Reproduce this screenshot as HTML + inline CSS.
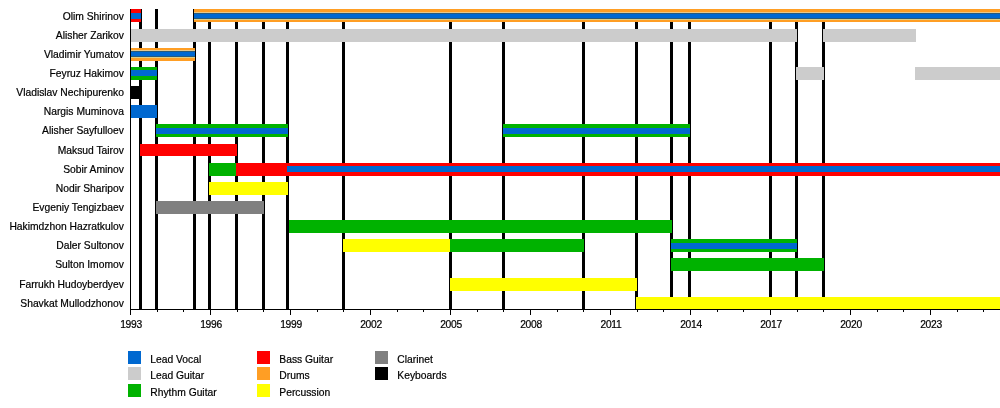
<!DOCTYPE html>
<html><head><meta charset="utf-8"><title>Timeline</title>
<style>
html,body{margin:0;padding:0;background:#fff}
#c{position:relative;width:1000px;height:408px;overflow:hidden;background:#fff;font-family:"Liberation Sans",sans-serif;font-size:10.3px;color:#000;line-height:12px;-webkit-text-stroke:0.2px #000}
#c div{position:absolute}
.l{background:#000;top:9px;height:300px;width:3px}
.b{height:13px}
.i{height:6px}
.n{left:0;width:123.9px;text-align:right;white-space:nowrap}
.t{background:#000;width:1px;top:309px}
.y{width:40px;text-align:center;top:318.5px;letter-spacing:-0.3px}
.s{width:13px;height:13px}
.o{box-shadow:inset 0 1px 0 #2a5a78,inset 0 -1px 0 #2a5a78,0 -1px 0 #e8c98a,0 1px 0 #d8cf8a}
.g{white-space:nowrap}
</style></head><body><div id="c">

<div class="l" style="left:139px"></div>
<div class="l" style="left:155px"></div>
<div class="l" style="left:193px"></div>
<div class="l" style="left:208px"></div>
<div class="l" style="left:235px"></div>
<div class="l" style="left:262px"></div>
<div class="l" style="left:286px"></div>
<div class="l" style="left:342px"></div>
<div class="l" style="left:449px"></div>
<div class="l" style="left:502px"></div>
<div class="l" style="left:582px"></div>
<div class="l" style="left:635px"></div>
<div class="l" style="left:670px"></div>
<div class="l" style="left:688px"></div>
<div class="l" style="left:769px"></div>
<div class="l" style="left:795px"></div>
<div class="l" style="left:822px"></div>
<div class="b" style="left:130px;width:11px;top:9px;background:#ff0000"></div>
<div class="i" style="left:130px;width:11px;top:13px;background:#0068d0"></div>
<div class="b" style="left:194px;width:806px;top:9px;background:#ff9e24"></div>
<div class="i o" style="left:194px;width:806px;top:13px;background:#0068d0"></div>
<div class="b" style="left:130px;width:667px;top:29px;background:#cccccc"></div>
<div class="b" style="left:823px;width:93px;top:29px;background:#cccccc"></div>
<div class="b" style="left:130px;width:65px;top:48px;background:#ff9e24"></div>
<div class="i o" style="left:130px;width:65px;top:51px;background:#0068d0"></div>
<div class="b" style="left:130px;width:27px;top:67px;background:#00b200"></div>
<div class="i" style="left:130px;width:27px;top:70px;background:#0068d0"></div>
<div class="b" style="left:796px;width:28px;top:67px;background:#cccccc"></div>
<div class="b" style="left:915px;width:85px;top:67px;background:#cccccc"></div>
<div class="b" style="left:130px;width:11px;top:86px;background:#000000"></div>
<div class="b" style="left:130px;width:27px;top:105px;background:#0068d0"></div>
<div class="b" style="left:156px;width:132px;top:124px;background:#00b200"></div>
<div class="i" style="left:156px;width:132px;top:128px;background:#0068d0"></div>
<div class="b" style="left:503px;width:187px;top:124px;background:#00b200"></div>
<div class="i" style="left:503px;width:187px;top:128px;background:#0068d0"></div>
<div class="b" style="left:140px;width:97px;top:144px;height:12px;background:#ff0000"></div>
<div class="b" style="left:209px;width:28px;top:163px;background:#00b200"></div>
<div class="b" style="left:236px;width:764px;top:163px;background:#ff0000"></div>
<div class="i" style="left:287px;width:713px;top:166px;background:#0068d0"></div>
<div class="b" style="left:209px;width:79px;top:182px;background:#ffff00"></div>
<div class="b" style="left:156px;width:108px;top:201px;background:#808080"></div>
<div class="b" style="left:289px;width:383px;top:220px;background:#00b200"></div>
<div class="b" style="left:343px;width:108px;top:239px;background:#ffff00"></div>
<div class="b" style="left:450px;width:134px;top:239px;background:#00b200"></div>
<div class="b" style="left:671px;width:126px;top:239px;background:#00b200"></div>
<div class="i" style="left:671px;width:126px;top:243px;background:#0068d0"></div>
<div class="b" style="left:671px;width:153px;top:258px;background:#00b200"></div>
<div class="b" style="left:450px;width:187px;top:278px;background:#ffff00"></div>
<div class="b" style="left:636px;width:364px;top:297px;background:#ffff00"></div>
<div style="left:130px;top:9px;width:1px;height:301px;background:#000"></div>
<div style="left:130px;top:309px;width:870px;height:1px;background:#000"></div>
<div class="t" style="left:130px;height:6.0px"></div>
<div class="y" style="left:111.0px">1993</div>
<div class="t" style="left:157px;height:3.0px"></div>
<div class="t" style="left:183px;height:3.0px"></div>
<div class="t" style="left:210px;height:6.0px"></div>
<div class="y" style="left:191.0px">1996</div>
<div class="t" style="left:237px;height:3.0px"></div>
<div class="t" style="left:263px;height:3.0px"></div>
<div class="t" style="left:290px;height:6.0px"></div>
<div class="y" style="left:271.0px">1999</div>
<div class="t" style="left:317px;height:3.0px"></div>
<div class="t" style="left:343px;height:3.0px"></div>
<div class="t" style="left:370px;height:6.0px"></div>
<div class="y" style="left:351.0px">2002</div>
<div class="t" style="left:397px;height:3.0px"></div>
<div class="t" style="left:423px;height:3.0px"></div>
<div class="t" style="left:450px;height:6.0px"></div>
<div class="y" style="left:431.0px">2005</div>
<div class="t" style="left:477px;height:3.0px"></div>
<div class="t" style="left:503px;height:3.0px"></div>
<div class="t" style="left:530px;height:6.0px"></div>
<div class="y" style="left:511.0px">2008</div>
<div class="t" style="left:557px;height:3.0px"></div>
<div class="t" style="left:583px;height:3.0px"></div>
<div class="t" style="left:610px;height:6.0px"></div>
<div class="y" style="left:591.0px">2011</div>
<div class="t" style="left:637px;height:3.0px"></div>
<div class="t" style="left:663px;height:3.0px"></div>
<div class="t" style="left:690px;height:6.0px"></div>
<div class="y" style="left:671.0px">2014</div>
<div class="t" style="left:717px;height:3.0px"></div>
<div class="t" style="left:743px;height:3.0px"></div>
<div class="t" style="left:770px;height:6.0px"></div>
<div class="y" style="left:751.0px">2017</div>
<div class="t" style="left:797px;height:3.0px"></div>
<div class="t" style="left:823px;height:3.0px"></div>
<div class="t" style="left:850px;height:6.0px"></div>
<div class="y" style="left:831.0px">2020</div>
<div class="t" style="left:877px;height:3.0px"></div>
<div class="t" style="left:903px;height:3.0px"></div>
<div class="t" style="left:930px;height:6.0px"></div>
<div class="y" style="left:911.0px">2023</div>
<div class="t" style="left:957px;height:3.0px"></div>
<div class="t" style="left:983px;height:3.0px"></div>
<div class="n" style="top:10.6px">Olim Shirinov</div>
<div class="n" style="top:29.6px">Alisher Zarikov</div>
<div class="n" style="top:48.6px">Vladimir Yumatov</div>
<div class="n" style="top:67.6px">Feyruz Hakimov</div>
<div class="n" style="top:86.6px">Vladislav Nechipurenko</div>
<div class="n" style="top:105.6px">Nargis Muminova</div>
<div class="n" style="top:125.3px">Alisher Sayfulloev</div>
<div class="n" style="top:144.6px">Maksud Tairov</div>
<div class="n" style="top:163.6px">Sobir Aminov</div>
<div class="n" style="top:182.6px">Nodir Sharipov</div>
<div class="n" style="top:201.6px">Evgeniy Tengizbaev</div>
<div class="n" style="top:220.6px">Hakimdzhon Hazratkulov</div>
<div class="n" style="top:239.6px">Daler Sultonov</div>
<div class="n" style="top:259.3px">Sulton Imomov</div>
<div class="n" style="top:278.6px">Farrukh Hudoyberdyev</div>
<div class="n" style="top:297.6px">Shavkat Mullodzhonov</div>
<div class="s" style="left:128px;top:351px;background:#0068d0"></div>
<div class="g" style="left:150.3px;top:354.2px">Lead Vocal</div>
<div class="s" style="left:128px;top:367px;background:#cccccc"></div>
<div class="g" style="left:150.3px;top:370.2px">Lead Guitar</div>
<div class="s" style="left:128px;top:384px;background:#00b200"></div>
<div class="g" style="left:150.3px;top:387.2px">Rhythm Guitar</div>
<div class="s" style="left:257px;top:351px;background:#ff0000"></div>
<div class="g" style="left:279.3px;top:354.2px">Bass Guitar</div>
<div class="s" style="left:257px;top:367px;background:#ff9e24"></div>
<div class="g" style="left:279.3px;top:370.2px">Drums</div>
<div class="s" style="left:257px;top:384px;background:#ffff00"></div>
<div class="g" style="left:279.3px;top:387.2px">Percussion</div>
<div class="s" style="left:375px;top:351px;background:#808080"></div>
<div class="g" style="left:397.3px;top:354.2px">Clarinet</div>
<div class="s" style="left:375px;top:367px;background:#000000"></div>
<div class="g" style="left:397.3px;top:370.2px">Keyboards</div>
</div></body></html>
